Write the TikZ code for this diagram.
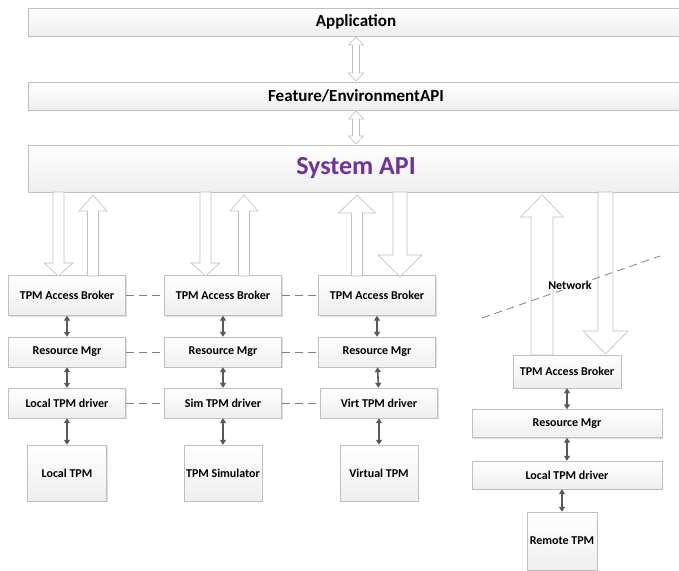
\documentclass[tikz,border=0pt]{standalone}
\usepackage{fontspec}
\setmainfont{Carlito}
\usetikzlibrary{arrows.meta,shadows}
\definecolor{apipurple}{HTML}{7030A0}
\definecolor{boxline}{HTML}{BFBFBF}
\definecolor{linkgray}{HTML}{595959}
% fat arrow: x, tail y, tip y, shaft half, head half, head length
\newcommand\fatarrow[6]{%
  \pgfmathsetmacro\hb{#3-#6*sign(#3-#2)}
  \draw[fat] (#1-#4,#2) -- (#1-#4,\hb) -- (#1-#5,\hb) -- (#1,#3)
    -- (#1+#5,\hb) -- (#1+#4,\hb) -- (#1+#4,#2) -- cycle;}
% double headed fat arrow: x, top y, bottom y, shaft half, head half, head length
\newcommand\dblarrow[6]{%
  \draw[fat] (#1,#2) -- (#1+#5,#2+#6) -- (#1+#4,#2+#6) -- (#1+#4,#3-#6)
    -- (#1+#5,#3-#6) -- (#1,#3) -- (#1-#5,#3-#6) -- (#1-#4,#3-#6)
    -- (#1-#4,#2+#6) -- (#1-#5,#2+#6) -- cycle;}
\begin{document}
\begin{tikzpicture}[x=1pt,y=-1pt,
    font=\bfseries\fontsize{12}{14}\selectfont,
    box/.style={draw=boxline,top color=white,bottom color=gray!13,
      drop shadow={shadow xshift=1pt,shadow yshift=-1pt,opacity=.25},
      minimum width=#1,inner sep=0pt},
    box/.default=117,
    fat/.style={draw=boxline,fill=white,line width=.6pt},
    link/.style={draw=linkgray,line width=1.6pt,
      {Triangle[length=5pt,width=6pt]}-{Triangle[length=5pt,width=6pt]}},
    peer/.style={draw=gray,line width=.9pt,dash pattern=on 8pt off 5pt}]
\useasboundingbox (0,0) rectangle (679,570);
% layers on top
\node[box=656,minimum height=28,font=\bfseries\fontsize{17}{20}\selectfont] (app) at (356,22) {Application};
\node[box=656,minimum height=28,font=\bfseries\fontsize{17}{20}\selectfont] (feat) at (356,96) {Feature/EnvironmentAPI};
\node[box=656,minimum height=47,font=\bfseries\fontsize{26}{30}\selectfont,text=apipurple] (sys) at (356,168.5) {System API};
\dblarrow{356}{37}{81}{3.5}{7.5}{8}
\dblarrow{356}{111}{144}{3.5}{7.5}{8}
% local stack
\node[box,minimum height=40] (brkA) at (67,295.5) {TPM Access Broker};
\node[box,minimum height=30] (rmA) at (67,352) {Resource Mgr};
\node[box,minimum height=30] (drvA) at (67,403) {Local TPM driver};
\node[box=79,minimum height=56] (tpmA) at (67,473) {Local TPM};
% simulator stack
\node[box,minimum height=40] (brkB) at (223,295.5) {TPM Access Broker};
\node[box,minimum height=30] (rmB) at (223,352) {Resource Mgr};
\node[box,minimum height=30] (drvB) at (223,403) {Sim TPM driver};
\node[box=78,minimum height=56] (tpmB) at (223,473) {TPM Simulator};
% virtual stack
\node[box,minimum height=40] (brkC) at (377,295.5) {TPM Access Broker};
\node[box,minimum height=30] (rmC) at (377,352) {Resource Mgr};
\node[box,minimum height=30] (drvC) at (379,403) {Virt TPM driver};
\node[box=78,minimum height=56] (tpmC) at (379,473) {Virtual TPM};
% remote stack
\node[box=108,minimum height=33] (brkD) at (567,371.5) {TPM Access Broker};
\node[box=190,minimum height=28] (rmD) at (567,423.5) {Resource Mgr};
\node[box=190,minimum height=28] (drvD) at (567,475) {Local TPM driver};
\node[box=70,minimum height=58] (tpmD) at (562,541) {Remote TPM};
% links inside the stacks
\foreach \s in {A,B,C,D}{
  \draw[link] (brk\s) -- (rm\s);
  \draw[link] (rm\s) -- (drv\s);
}
\draw[link] (drvA) -- (tpmA);
\draw[link] (drvB) -- (tpmB);
\draw[link] (drvC.south) -- (tpmC.north);
\draw[link] (drvD.south -| tpmD.north) -- (tpmD);
% peers
\draw[peer] (brkA) -- (brkB);
\draw[peer] (brkB) -- (brkC);
\draw[peer] (rmA) -- (rmB);
\draw[peer] (rmB) -- (rmC);
\draw[peer] (drvA) -- (drvB);
\draw[peer] (drvB) -- (drvC);
% calls to and from System API
\fatarrow{58.5}{192}{276}{5.5}{14.5}{13}
\fatarrow{93}{276}{195}{5.5}{14}{16}
\fatarrow{205.5}{192}{276}{5.5}{14.5}{13}
\fatarrow{244}{276}{195}{5.5}{14}{16}
\fatarrow{357}{276}{195}{5.5}{18.5}{18}
\fatarrow{400}{192}{277}{7}{22}{22}
\fatarrow{542}{355}{195}{11}{21.5}{22}
\fatarrow{605.5}{192}{354}{7.5}{22.5}{23}
% network border
\coordinate (netL) at (482,318);
\coordinate (netR) at (660,256);
\draw[peer,line width=.8pt] (netL) -- (netR);
\node[fill=white,inner sep=1pt] (net) at (570,285) {Network};
\end{tikzpicture}
\end{document}
